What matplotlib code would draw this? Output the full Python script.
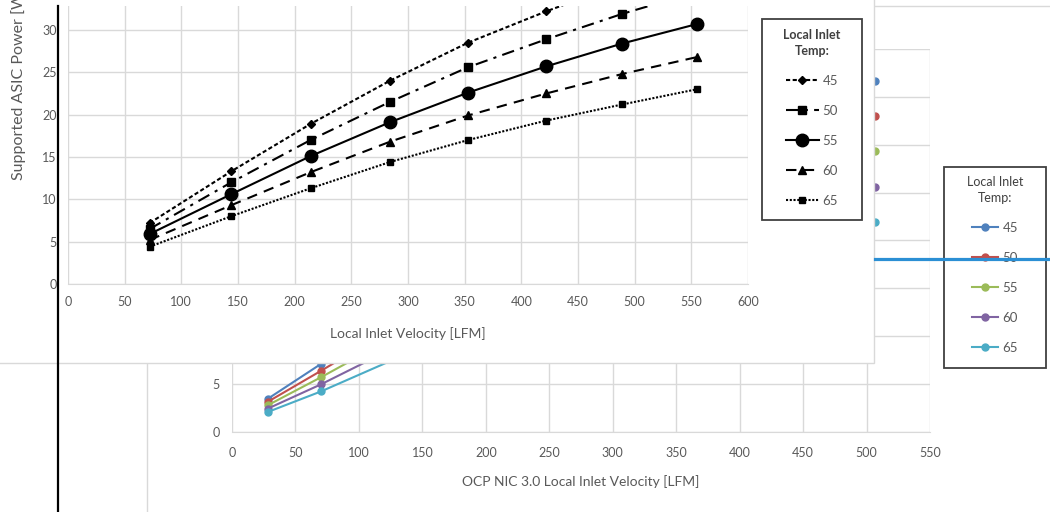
import matplotlib
matplotlib.use("Agg")
import matplotlib.pyplot as plt
from matplotlib.lines import Line2D
from matplotlib.patches import Rectangle

plt.rcParams['font.family'] = ['Lato', 'DejaVu Sans']

W, H = 1050, 512
GRID = '#d9d9d9'
TXT = '#595959'

temps = ['45', '50', '55', '60', '65']

# front chart (black & white)
front_velocity = [72, 144, 214, 284, 353, 422, 489, 555]
front_power = {
    '45': [7.2, 13.3, 18.9, 24.0, 28.5, 32.2, 35.5, 38.5],
    '50': [6.5, 12.0, 17.0, 21.5, 25.6, 28.9, 31.9, 34.5],
    '55': [5.9, 10.6, 15.1, 19.1, 22.6, 25.7, 28.4, 30.7],
    '60': [5.2, 9.3, 13.2, 16.8, 19.9, 22.5, 24.8, 26.8],
    '65': [4.4, 8.0, 11.3, 14.4, 17.0, 19.3, 21.2, 23.0],
}
front_styles = {
    '45': dict(ls=(0, (2, 1.2)), marker='D', ms=4),
    '50': dict(ls=(0, (6, 3, 1.5, 3)), marker='s', ms=6),
    '55': dict(ls='-', marker='o', ms=9),
    '60': dict(ls=(0, (5, 3.5)), marker='^', ms=6),
    '65': dict(ls=(0, (1, 0.8)), marker='s', ms=5),
}

# back chart (colour, mostly hidden)
back_velocity = [28, 70, 140, 210, 280, 350, 430, 507]
back_power = {
    '45': [3.45, 7.1, 13.1, 18.6, 23.5, 28.0, 32.6, 36.7],
    '50': [3.14, 6.38, 11.9, 16.9, 21.3, 25.4, 29.4, 33.0],
    '55': [2.78, 5.71, 10.8, 15.3, 19.2, 22.8, 26.3, 29.3],
    '60': [2.43, 4.97, 9.6, 13.6, 17.0, 20.1, 23.1, 25.6],
    '65': [2.08, 4.23, 8.3, 11.6, 14.5, 17.1, 19.7, 21.9],
}
back_colors = ['#4f81bd', '#c0504d', '#9bbb59', '#8064a2', '#4bacc6']


def fx(px):
    return px / W


def fy(py):
    return 1 - py / H


def style_axes(ax):
    for side in ['top', 'right', 'left']:
        ax.spines[side].set_visible(False)
    ax.spines['bottom'].set_color(GRID)
    ax.grid(True, color=GRID, lw=1)
    ax.set_axisbelow(True)
    ax.tick_params(length=0, labelsize=9, labelcolor=TXT)


def add_legend(ax, center_px, zorder, bold_title, handlelength):
    h, l = ax.get_legend_handles_labels()
    leg = fig.legend(h, l, title='Local Inlet\nTemp:', loc='center',
                     bbox_to_anchor=(fx(center_px[0]), fy(center_px[1])), frameon=False,
                     fontsize=9.5, title_fontsize=9, labelspacing=1.36,
                     handlelength=handlelength, handletextpad=0.3, borderpad=0,
                     alignment='center')
    leg.set_zorder(zorder)
    for txt in leg.get_texts():
        txt.set_color(TXT)
    title = leg.get_title()
    title.set_color('#404040')
    title.set_linespacing(1.4)
    title.set_multialignment('center')
    if bold_title:
        title.set_fontweight('bold')
    return leg


fig = plt.figure(figsize=(W / 100, H / 100), dpi=100)

# ---- back chart ----
fig.patches.append(Rectangle((fx(147), -0.05), 1.0, fy(6) + 0.05, transform=fig.transFigure,
                             fc='white', ec=GRID, lw=1, zorder=0))
axb = fig.add_axes([fx(232), fy(432), fx(930) - fx(232), fy(49) - fy(432)], zorder=1)
axb.patch.set_visible(False)
for t, c in zip(temps, back_colors):
    axb.plot(back_velocity, back_power[t], color=c, lw=1.5, marker='o', ms=5, label=t)
axb.set_xlim(0, 550)
axb.set_ylim(0, 40)
axb.set_xticks(range(0, 551, 50))
axb.set_yticks(range(0, 41, 5))
style_axes(axb)
axb.tick_params(axis='x', pad=10.5)
axb.tick_params(axis='y', pad=9)
axb.set_xlabel('OCP NIC 3.0 Local Inlet Velocity [LFM]', fontsize=10, color=TXT, labelpad=12)

fig.patches.append(Rectangle((fx(944), fy(368)), fx(1046) - fx(944), fy(167) - fy(368),
                             transform=fig.transFigure, fc='white', ec='#404040', lw=1.3, zorder=3))
add_legend(axb, (995, 265), 4, False, 2.0)

# ---- front chart ----
fig.patches.append(Rectangle((-0.02, fy(363)), fx(874) + 0.02, fy(0) - fy(363) + 0.05,
                             transform=fig.transFigure, fc='white', ec=GRID, lw=1, zorder=10))
axf = fig.add_axes([fx(68), fy(284), fx(748) - fx(68), fy(6) - fy(284)], zorder=11)
axf.patch.set_visible(False)
for t in temps:
    axf.plot(front_velocity, front_power[t], color='black', lw=1.5, label=t, **front_styles[t])
axf.set_xlim(0, 600)
axf.set_ylim(0, 32.83)
axf.set_xticks(range(0, 601, 50))
axf.set_yticks(range(0, 31, 5))
style_axes(axf)
axf.tick_params(axis='x', pad=9)
axf.tick_params(axis='y', pad=8)
axf.set_xlabel('Local Inlet Velocity [LFM]', fontsize=10, color=TXT, labelpad=13)
fig.text(fx(19), fy(180), 'Supported ASIC Power [W]', rotation=90, ha='center', va='bottom',
         fontsize=11.5, color=TXT, zorder=12)

fig.patches.append(Rectangle((fx(762), fy(220)), fx(862) - fx(762), fy(19) - fy(220),
                             transform=fig.transFigure, fc='white', ec='#404040', lw=1.3, zorder=12))
add_legend(axf, (812, 118), 13, True, 2.5)

# overlay strokes on the screenshot
fig.add_artist(Line2D([fx(58), fx(58)], [fy(6), -0.01], transform=fig.transFigure,
                      color='black', lw=1.6, zorder=20))
fig.add_artist(Line2D([fx(875), 1.01], [fy(259), fy(259)], transform=fig.transFigure,
                      color='#2b8fd4', lw=2.3, zorder=20))

fig.savefig('out.png', dpi=100)
